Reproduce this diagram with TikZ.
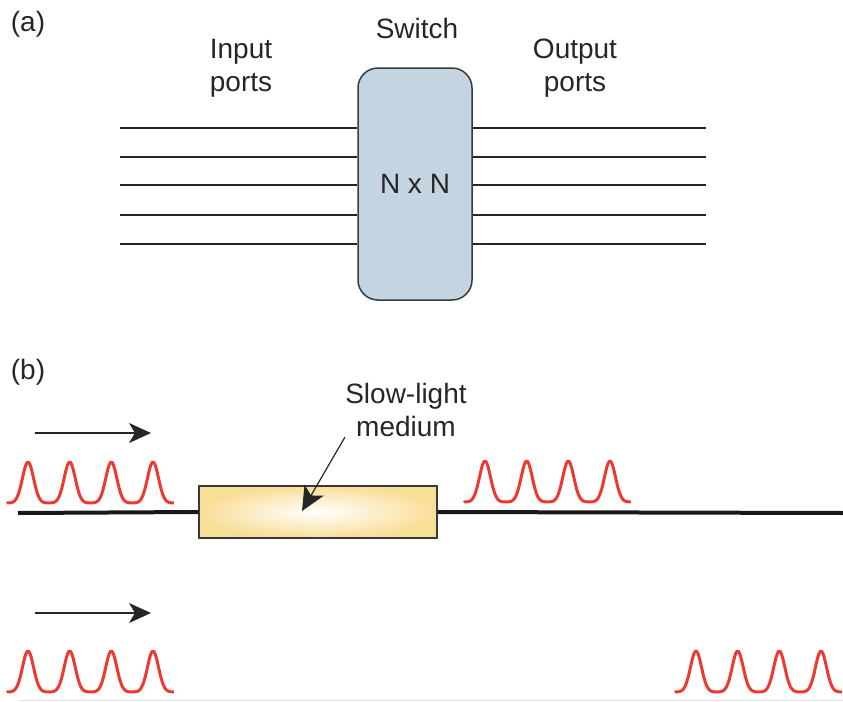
\documentclass[tikz,border=0pt]{standalone}
\usepackage{fontspec}
\setmainfont{Liberation Sans}
\usepackage{xcolor}
\usepackage{tikz}
\usetikzlibrary{arrows.meta, positioning, calc}

\definecolor{swblue}{RGB}{196,212,224}
\definecolor{medyellow}{RGB}{249,222,152}
\definecolor{pulsered}{RGB}{236,58,50}
\definecolor{txtgray}{RGB}{38,38,40}
\definecolor{edgegray}{RGB}{58,58,58}

\tikzset{
  pulses/.pic={
    \draw[pulse] (-20.8,0) \foreach \c in {0,41.7,83.3,125}{
      -- plot[domain=-20.8:20.8, samples=41, smooth] ({\c+\x}, {-41*exp(-0.01644*(\x)*(\x))}) };
  }
}

\begin{document}
\begin{tikzpicture}[
    x=0.5pt, y=-0.5pt,
    font=\fontsize{14}{16.5}\selectfont, text=txtgray,
    lbl/.style={align=center, inner sep=0pt},
    switch/.style={draw=edgegray, line width=0.75pt, fill=swblue, rounded corners=10pt,
                   minimum width=57pt, minimum height=116pt, inner sep=0pt},
    medium/.style={draw=edgegray, line width=0.6pt, inner sep=0pt,
                   minimum width=119pt, minimum height=26pt,
                   inner color=white, outer color=medyellow},
    port/.style={line width=0.6pt, black!85},
    fiber/.style={line width=2pt, black!90},
    pulse/.style={line width=1.5pt, pulsered, line join=round},
    arr/.style={-{Stealth[length=11pt, width=10pt, inset=3pt]}, line width=0.6pt, black!85},
    bigarr/.style={arr, -{Stealth[length=12pt, width=11pt, inset=3pt]}}]
  \useasboundingbox (0,0) rectangle (843,702);

  % (a) N x N switch
  \node[lbl] (tagA) at (28,24)  {(a)};
  \node[lbl] (swl)  at (417,28) {Switch};
  \node[lbl] (inl)  at (241,68) {Input\\ports};
  \node[lbl] (outl) at (575,68) {Output\\ports};
  \node[switch] (sw) at (415,184) {N x N};
  \foreach \y [count=\i] in {128,157,185,215,244} {
    \coordinate (in\i) at (120,\y);
    \coordinate (out\i) at (706,\y);
    \draw[port] (in\i) -- (in\i -| sw.west);
    \draw[port] (sw.east |- out\i) -- (out\i);
  }

  % (b) slow-light buffer
  \node[lbl] (tagB) at (28,372) {(b)};
  \node[medium] (med) at (318,512) {};
  \node[lbl] (medl) at (406,410) {Slow-light\\medium};
  \coordinate (f0) at (18,513);
  \coordinate (f1) at (843,513);
  \coordinate (tip) at (302,511);
  \draw[fiber] (f0) -- (med.west);
  \draw[fiber] (med.east) -- (f1);
  \draw[bigarr] (medl.south west) -- (tip);

  \coordinate (d1s) at (35,433);
  \coordinate (d1e) at (151,433);
  \coordinate (d2s) at (35,613);
  \coordinate (d2e) at (151,613);
  \draw[arr] (d1s) -- (d1e);
  \draw[arr] (d2s) -- (d2e);

  \pic (p1) at (28,503) {pulses};
  \pic (p2) at (485,502) {pulses};
  \pic (p3) at (28,692) {pulses};
  \pic (p4) at (696,692) {pulses};

  \draw[black!12, line width=0.5pt] (19,700) -- (843,700);
\end{tikzpicture}
\end{document}
